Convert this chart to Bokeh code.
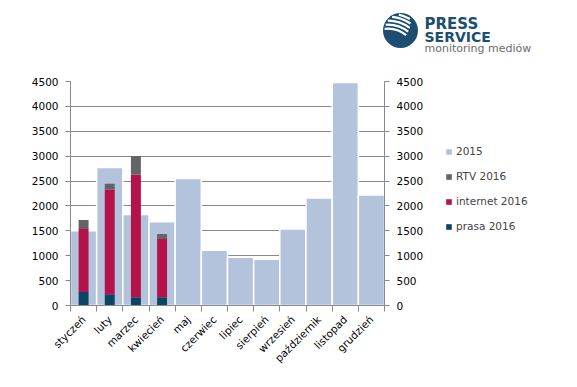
import numpy as np
from math import pi
from bokeh.plotting import figure
from bokeh.layouts import column, row
from bokeh.models import (Range1d, LinearAxis, FixedTicker, Legend, LegendItem,
                          ColumnDataSource)
from bokeh.core.properties import value
from bokeh.embed import file_html
from bokeh.resources import INLINE

months = ["styczeń", "luty", "marzec", "kwiecień", "maj", "czerwiec", "lipiec",
          "sierpień", "wrzesień", "październik", "listopad", "grudzień"]
v2015 = [1500, 2770, 1830, 1680, 2550, 1110, 970, 930, 1535, 2160, 4480, 2220]
prasa2016 = [272, 228, 167, 167]
internet2016 = [1265, 2102, 2459, 1169]
rtv2016 = [182, 114, 376, 101]
yticks = [0, 500, 1000, 1500, 2000, 2500, 3000, 3500, 4000, 4500]

C2015 = "#b4c3dc"
CRTV = "#636466"
CINT = "#b5124a"
CPRA = "#0b4465"
GRID = "#8a8a8a"
LOGO = "#1c4e72"
FONT = "DejaVu Sans"

W = 570
HLOGO = 60
HMAIN = 320
WMAIN = 430

# ---------------- logo strip ----------------
lg = figure(width=W, height=HLOGO, x_range=Range1d(0, W), y_range=Range1d(0, HLOGO),
            output_backend="svg", toolbar_location=None, min_border=0)
lg.axis.visible = False
lg.grid.visible = False
lg.outline_line_color = None
cx, cy, R = 400, HLOGO - 30, 17.5
lg.circle(x=[cx], y=[cy], radius=R, fill_color=LOGO, line_color=None)
ang = np.deg2rad(65)
d = 30.0
ax0, ay0 = cx - d * np.cos(ang), cy - d * np.sin(ang)
Reff = R - 1.5
for r in [29, 33, 37, 41, 44.5]:
    c = (r * r + d * d - Reff ** 2) / (2 * r * d)
    if c >= 1:
        continue
    half = np.arccos(c)
    lg.arc(x=[ax0], y=[ay0], radius=r, start_angle=ang - 0.45 * half, end_angle=ang + half,
           line_color="white", line_width=2.2)
lg.text(x=[424], y=[HLOGO - 23.5], text=["PRESS"], text_font=value(FONT), text_font_style="bold",
        text_font_size="15px", text_color=LOGO, text_baseline="middle")
lg.text(x=[424], y=[HLOGO - 36], text=["SERVICE"], text_font=value(FONT), text_font_style="bold",
        text_font_size="14px", text_color=LOGO, text_baseline="middle")
lg.text(x=[424], y=[HLOGO - 47.7], text=["monitoring mediów"], text_font=value(FONT),
        text_font_size="11px", text_color="#6b6b6b", text_baseline="middle")

# ---------------- main chart ----------------
n = len(months)
centers = (np.arange(n) + 0.5).tolist()
bounds = np.arange(n + 1).tolist()
FRAME_TOP, FRAME_BOTTOM = 81, 305

p = figure(width=WMAIN, height=HMAIN, x_range=Range1d(0, n), y_range=Range1d(0, max(yticks)),
           output_backend="svg", toolbar_location=None,
           min_border_left=70, min_border_right=WMAIN - 384, min_border_top=FRAME_TOP - HLOGO,
           min_border_bottom=HMAIN - (FRAME_BOTTOM - HLOGO))
p.outline_line_color = None

src15 = ColumnDataSource(dict(x=centers, top=v2015))
r15 = p.vbar(x="x", top="top", width=1.0, source=src15, fill_color=C2015,
             line_color="white", line_width=1.5)

k = len(prasa2016)
src16 = ColumnDataSource(dict(x=centers[:k], prasa=prasa2016, internet=internet2016, rtv=rtv2016))
rs = p.vbar_stack(["prasa", "internet", "rtv"], x="x", width=0.38, source=src16,
                  fill_color=[CPRA, CINT, CRTV], line_color=None)

p.xgrid.visible = False
p.ygrid.ticker = FixedTicker(ticks=yticks)
p.ygrid.grid_line_color = GRID
p.ygrid.level = "underlay"

xa = p.xaxis[0]
xa.ticker = FixedTicker(ticks=centers, minor_ticks=bounds)
xa.major_label_overrides = {c: m for c, m in zip(centers, months)}
xa.major_tick_line_color = None
xa.minor_tick_line_color = GRID
xa.minor_tick_in = 0
xa.minor_tick_out = 6
xa.axis_line_color = GRID
xa.major_label_orientation = pi / 4
xa.major_label_text_font = FONT
xa.major_label_text_font_size = "10.5px"
xa.major_label_text_color = "black"
xa.major_label_standoff = 6

def style_y(ax):
    ax.ticker = FixedTicker(ticks=yticks)
    ax.axis_line_color = GRID
    ax.major_tick_line_color = GRID
    ax.major_tick_in = 0
    ax.major_tick_out = 5
    ax.minor_tick_line_color = None
    ax.major_label_text_font = FONT
    ax.major_label_text_font_size = "10.5px"
    ax.major_label_text_color = "black"
    ax.major_label_standoff = 7

style_y(p.yaxis[0])
ra = LinearAxis()
style_y(ra)
p.add_layout(ra, "right")

# ---------------- legend panel ----------------
WLEG = W - WMAIN
lf = figure(width=WLEG, height=HMAIN, x_range=Range1d(0, 1), y_range=Range1d(0, 1),
            output_backend="svg", toolbar_location=None, min_border=0)
lf.axis.visible = False
lf.grid.visible = False
lf.outline_line_color = None
series = [("2015", C2015), ("RTV 2016", CRTV), ("internet 2016", CINT), ("prasa 2016", CPRA)]
items = []
for name, col in series:
    rr = lf.vbar(x=[0], top=[0], width=0, fill_color=col, line_color=None)
    items.append(LegendItem(label=name, renderers=[rr]))
legend = Legend(items=items, location=(445 - WMAIN, FRAME_BOTTOM - (141 + 95)),
                glyph_width=7, glyph_height=7, label_height=20, spacing=5, label_standoff=4,
                label_text_font=FONT, label_text_font_size="10.5px", border_line_color=None,
                background_fill_alpha=0, margin=0, padding=0)
lf.add_layout(legend, "center")

layout = column(lg, row(p, lf))
open("out.html", "w").write(file_html(layout, INLINE))
